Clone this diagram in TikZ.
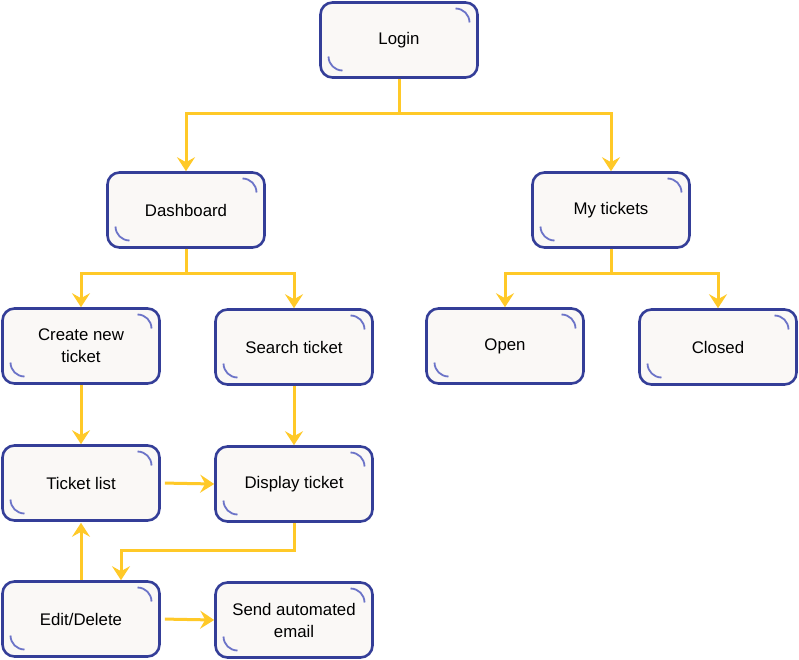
\documentclass[tikz,border=0pt]{standalone}
\usepackage{fontspec}
\setmainfont{Liberation Sans}
\usetikzlibrary{arrows.meta}
\definecolor{ylw}{HTML}{FFC928}
\definecolor{bdr}{HTML}{343E98}
\definecolor{arcc}{HTML}{6C74C8}
\definecolor{fillc}{HTML}{FAF8F6}
\tikzset{
  box/.style={rectangle, rounded corners=12pt, draw=bdr, line width=2.6pt, fill=fillc,
    minimum width=157pt, minimum height=75pt, align=center,
    font=\fontsize{16.8}{22}\selectfont,
    path picture={
      \draw[arcc, line width=1.8pt] ([xshift=-22pt,yshift=-6pt]path picture bounding box.north east) arc[start angle=90,end angle=0,radius=14pt];
      \draw[arcc, line width=1.8pt] ([xshift=8pt,yshift=21pt]path picture bounding box.south west) arc[start angle=180,end angle=270,radius=14pt];
    }},
  conn/.style={draw=ylw, line width=3pt, -{Stealth[length=14pt,width=18pt,inset=5pt]}}
}
\begin{document}
\begin{tikzpicture}[x=1pt,y=-1pt]
\useasboundingbox (0,0) rectangle (799,660);
\node[box] (login) at (399,40) {Login};
\node[box] (dash) at (186,210) {Dashboard};
\node[box] (myt) at (611,210) {My tickets};
\node[box] (create) at (81,346) {Create new\\ticket};
\node[box] (search) at (294,347) {Search ticket};
\node[box] (open) at (505,346) {Open};
\node[box] (closed) at (718,347) {Closed};
\node[box] (tlist) at (81,483) {Ticket list};
\node[box] (disp) at (294,484) {Display ticket};
\node[box] (edit) at (81,619) {Edit/Delete};
\node[box] (send) at (294,620) {Send automated\\email};

\draw[conn] (login.south) -- ++(0,35) -| (dash.north);
\draw[conn] (login.south) -- ++(0,35) -| (myt.north);
\draw[conn] (dash.south) -- ++(0,25) -| (create.north);
\draw[conn] (dash.south) -- ++(0,25) -| (search.north);
\draw[conn] (myt.south) -- ++(0,25) -| (open.north);
\draw[conn] (myt.south) -- ++(0,25) -| (closed.north);
\draw[conn] (create.south) -- (tlist.north);
\draw[conn] (search.south) -- (disp.north);
\draw[conn, shorten <=4pt] (tlist.east) -- (disp.west);
\draw[conn] (disp.south) -- ++(0,28) -| ([xshift=40pt]edit.north);
\draw[conn, shorten >=1pt] (edit.north) -- (tlist.south);
\draw[conn, shorten <=4pt] (edit.east) -- (send.west);
\end{tikzpicture}
\end{document}
